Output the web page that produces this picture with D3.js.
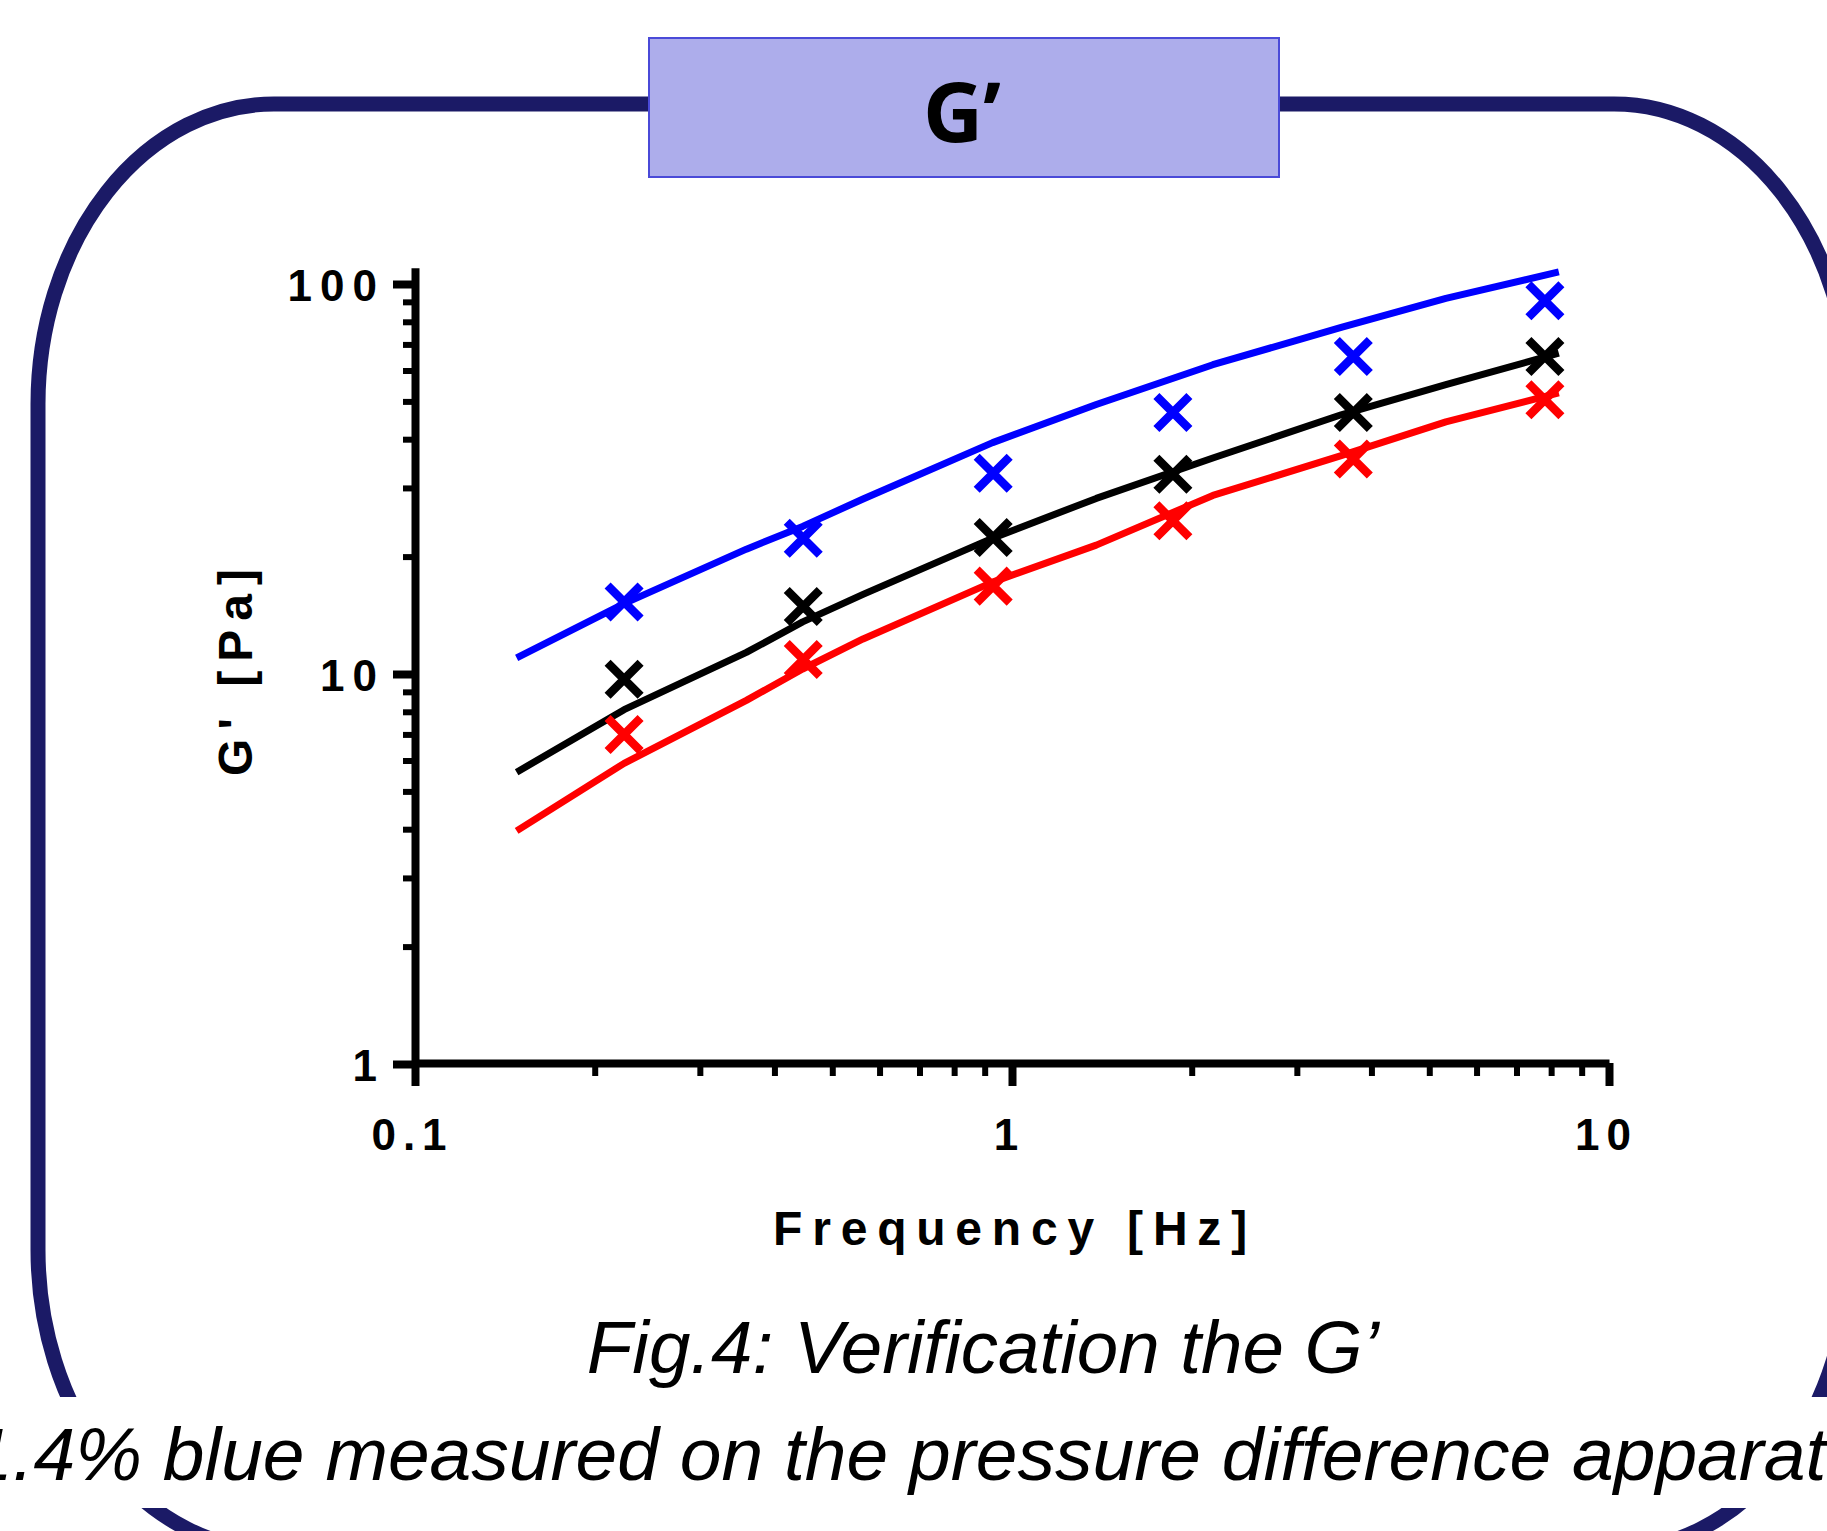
<!DOCTYPE html>
<html><head><meta charset="utf-8">
<script src="https://cdn.jsdelivr.net/npm/d3@7"></script>
<style>body{margin:0;background:#fff;} svg{display:block}</style>
</head><body><svg id="c" width="1827" height="1531"></svg>
<script>
// ---- data ----
const headerTitle = "G’";
const xTitle = "Frequency [Hz]";
const yTitle = "G' [Pa]";
const caption1 = "Fig.4: Verification the G’";
const caption2 = "1.4% blue measured on the pressure difference apparatus";

const xMajor = [0.1, 1, 10];
const xMinor = [0.2,0.3,0.4,0.5,0.6,0.7,0.8,0.9,2,3,4,5,6,7,8,9];
const yMajor = [1, 10, 100];
const yMinor = [2,3,4,5,6,7,8,9,20,30,40,50,60,70,80,90];

const measFreq  = [0.224, 0.447, 0.93, 1.86, 3.73, 7.81];
const blueMeas  = [15.3, 22.3, 32.7, 46.8, 65.2, 90.6];
const blackMeas = [9.7, 14.9, 22.4, 32.5, 46.8, 65.2];
const redMeas   = [7.0, 10.9, 16.8, 24.7, 35.6, 50.5];

const modelFreq  = [0.148, 0.224, 0.359, 0.446, 0.563, 0.928, 1.384, 2.17, 3.56, 5.33, 8.24];
const blueModel  = [11.0, 15.15, 20.9, 23.9, 28.1, 39.2, 49.1, 62.1, 77.4, 91.9, 107.4];
const blackModel = [5.6, 8.1, 11.36, 13.6, 16.0, 22.3, 28.2, 35.8, 46.2, 55.2, 66.5];
const redModel   = [3.96, 5.9, 8.56, 10.3, 12.3, 17.2, 21.4, 28.7, 36.3, 44.3, 52.6];

const seriesNames = ["red", "black", "blue"];
const seriesColors = {blue: "#0000ff", black: "#000000", red: "#ff0000"};
const seriesMeas = {blue: blueMeas, black: blackMeas, red: redMeas};
const seriesModel = {blue: blueModel, black: blackModel, red: redModel};

// ---- drawing ----
const svg = d3.select('#c');
const W = 1827, H = 1531;

// rounded frame
svg.append('rect')
  .attr('x', 38).attr('y', 104).attr('width', 1812).attr('height', 1446)
  .attr('rx', 236).attr('ry', 300)
  .attr('fill', 'none').attr('stroke', '#1b1a66').attr('stroke-width', 15);

// header box
svg.append('rect')
  .attr('x', 649).attr('y', 38).attr('width', 630).attr('height', 139)
  .attr('fill', '#adadeb').attr('stroke', '#4a4ad8').attr('stroke-width', 2);
svg.append('text')
  .attr('x', 962).attr('y', 142).attr('text-anchor', 'middle')
  .attr('font-family', "'Open Sans', sans-serif").attr('font-weight', 700)
  .attr('font-size', 83).attr('fill', '#000').text(headerTitle);

// scales
const x = d3.scaleLog().domain([0.1, 10]).range([415, 1609]);
const yTop = 110;
const y = d3.scaleLog().domain([1, yTop]).range([1064, 1064 - 390 * Math.log10(yTop)]);

const fontFam = "'Liberation Sans', Arial, Helvetica, sans-serif";

// y axis
const gy = svg.append('g').attr('transform', 'translate(415,0)');
gy.call(d3.axisLeft(y).tickValues(yMinor).tickSize(12).tickSizeOuter(0).tickFormat(''));
gy.selectAll('.tick line').attr('stroke-width', 6);
gy.select('.domain').remove();
const gy2 = svg.append('g').attr('transform', 'translate(415,0)');
gy2.call(d3.axisLeft(y).tickValues(yMajor).tickSize(22).tickSizeOuter(0).tickPadding(8).tickFormat(d3.format('d')));
gy2.selectAll('.tick line').attr('stroke-width', 8);
gy2.select('.domain').attr('stroke-width', 8);
gy2.selectAll('.tick text')
  .attr('font-family', fontFam).attr('font-weight', 'bold').attr('font-size', 44)
  .attr('letter-spacing', 8).attr('dy', '0.38em').attr('fill', '#000');

// x axis
const gx = svg.append('g').attr('transform', 'translate(0,1063)');
gx.call(d3.axisBottom(x).tickValues(xMinor).tickSize(13).tickSizeOuter(0).tickFormat(''));
gx.selectAll('.tick line').attr('stroke-width', 6);
gx.select('.domain').remove();
const gx2 = svg.append('g').attr('transform', 'translate(0,1063)');
gx2.call(d3.axisBottom(x).tickValues(xMajor).tickSize(23).tickSizeOuter(0).tickPadding(33).tickFormat(d => String(d)));
gx2.selectAll('.tick line').attr('stroke-width', 8);
gx2.select('.domain').attr('stroke-width', 8);
gx2.selectAll('.tick text')
  .attr('font-family', fontFam).attr('font-weight', 'bold').attr('font-size', 44)
  .attr('letter-spacing', 7).attr('dx', -3).attr('fill', '#000');

// axis titles
svg.append('text')
  .attr('x', 1015).attr('y', 1245).attr('text-anchor', 'middle')
  .attr('font-family', fontFam).attr('font-weight', 'bold').attr('font-size', 48)
  .attr('letter-spacing', 9.8).attr('fill', '#000').text(xTitle);
svg.append('text')
  .attr('transform', 'translate(252,668) rotate(-90)').attr('text-anchor', 'middle')
  .attr('font-family', fontFam).attr('font-weight', 'bold').attr('font-size', 48)
  .attr('letter-spacing', 9).attr('fill', '#000').text(yTitle);

// series
const line = d3.line().x(d => x(d[0])).y(d => y(d[1]));
const symR = 16.5;
const sym = d3.symbol().type(d3.symbolX).size((symR / 0.6189) ** 2 + 1.7);
const plot = svg.append('g');
seriesNames.forEach(name => {
  const pts = modelFreq.map((f, i) => [f, seriesModel[name][i]]);
  plot.append('path').datum(pts)
    .attr('d', line).attr('fill', 'none')
    .attr('stroke', seriesColors[name]).attr('stroke-width', 7)
    .attr('stroke-linejoin', 'round');
});
seriesNames.forEach(name => {
  const pts = measFreq.map((f, i) => [f, seriesMeas[name][i]]);
  plot.selectAll(null).data(pts).enter().append('path')
    .attr('transform', d => `translate(${x(d[0])},${y(d[1])})`)
    .attr('d', sym).attr('fill', 'none')
    .attr('stroke', seriesColors[name]).attr('stroke-width', 8.5);
});

// captions
svg.append('text')
  .attr('x', 983).attr('y', 1373).attr('text-anchor', 'middle')
  .attr('font-family', fontFam).attr('font-style', 'italic').attr('font-size', 74.5)
  .attr('fill', '#000').text(caption1);
svg.append('rect').attr('x', 0).attr('y', 1397).attr('width', W).attr('height', 111).attr('fill', '#fff');
svg.append('text')
  .attr('x', -29).attr('y', 1480).attr('text-anchor', 'start')
  .attr('font-family', fontFam).attr('font-style', 'italic').attr('font-size', 75)
  .attr('fill', '#000').text(caption2);
</script>
</body></html>
